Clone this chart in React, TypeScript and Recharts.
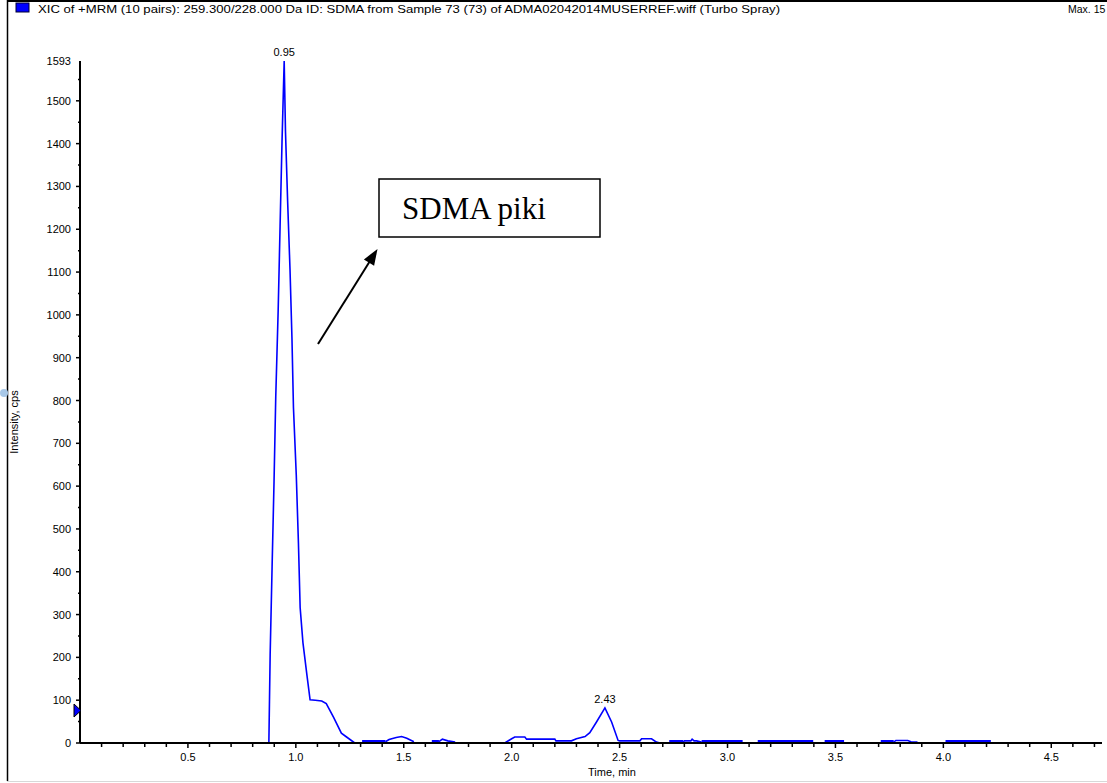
import React from 'react';
import { LineChart, Line, XAxis, YAxis, ReferenceDot } from 'recharts';

// Main XIC trace (time in min, intensity in cps); null = no visible trace
const traceTimes = [
  0.875, 0.881, 0.890, 0.899, 0.907, 0.918, 0.927, 0.936, 0.946, 0.952, 0.962, 0.973, 0.982, 0.989,
  1.002, 1.012, 1.020, 1.033, 1.052, 1.066, 1.090, 1.120, 1.141, 1.175, 1.211, 1.235, 1.273, 1.280,
  1.415, 1.432, 1.465, 1.490, 1.514, 1.547, 1.555,
  1.663, 1.679, 1.704, 1.738, 1.745,
  1.968, 2.000, 2.014, 2.061, 2.069, 2.200, 2.205, 2.277, 2.300, 2.340, 2.362, 2.393, 2.432, 2.463,
  2.493, 2.501, 2.594, 2.602, 2.648, 2.671, 2.687, 2.700,
  2.795, 2.800, 2.830, 2.836, 2.845, 2.857, 2.880, 2.890,
  3.770, 3.780, 3.835, 3.850, 3.880,
];
const traceValues = [
  0, 206, 412, 611, 810, 1008, 1207, 1405, 1593, 1429, 1265, 1106, 946, 783,
  626, 467, 316, 234, 156, 101, 100, 98, 92, 60, 23, 14, 0, null,
  3, 8, 13, 15, 11, 3, null,
  3, 9, 5, 2, null,
  0, 10, 14, 14, 9, 9, 5, 5, 10, 15, 24, 49, 82, 49,
  6, 5, 5, 10, 10, 2, 0, null,
  2, 5, 5, 9, 5, 5, 2, null,
  2, 6, 6, 3, 2,
];

// Noise-floor stretches near the baseline
const noiseTimes = [
  1.307, 1.415, 1.5, 1.630, 1.663, 1.7, 2.730, 2.795, 2.8, 2.880, 3.070, 3.1,
  3.140, 3.397, 3.42, 3.450, 3.540, 3.6, 3.710, 3.770, 3.9, 4.010, 4.220,
];
const noiseValues = [
  3, 3, null, 3, 3, null, 3, 3, null, 3, 3, null,
  3, 3, null, 3, 3, null, 3, 3, null, 3, 3,
];

const xTicks = [
  0.1, 0.2, 0.3, 0.4, 0.5, 0.6, 0.7, 0.8, 0.9, 1.0, 1.1, 1.2, 1.3, 1.4, 1.5, 1.6, 1.7, 1.8, 1.9, 2.0,
  2.1, 2.2, 2.3, 2.4, 2.5, 2.6, 2.7, 2.8, 2.9, 3.0, 3.1, 3.2, 3.3, 3.4, 3.5, 3.6, 3.7, 3.8, 3.9, 4.0,
  4.1, 4.2, 4.3, 4.4, 4.5, 4.6, 4.7,
];
const xLabelled = ['0.5', '1.0', '1.5', '2.0', '2.5', '3.0', '3.5', '4.0', '4.5'];
const yMajorTicks = [0, 100, 200, 300, 400, 500, 600, 700, 800, 900, 1000, 1100, 1200, 1300, 1400, 1500];
const yMinorTicks = [50, 150, 250, 350, 450, 550, 650, 750, 850, 950, 1050, 1150, 1250, 1350, 1450, 1550];
const yMax = 1593;
const xMax = 4.735;

const peakLabels = [
  { t: 0.946, v: 1593, label: '0.95' },
  { t: 2.432, v: 82, label: '2.43' },
];

const titleText =
  'XIC of +MRM (10 pairs): 259.300/228.000 Da ID: SDMA from Sample 73 (73) of ADMA02042014MUSERREF.wiff (Turbo Spray)';
const maxText = 'Max. 15';

const traceData = traceTimes.map((t, i) => ({ t, v: traceValues[i] }));
const noiseData = noiseTimes.map((t, i) => ({ t, v: noiseValues[i] }));
const yTicks = [...yMajorTicks, ...yMinorTicks, yMax].sort((a, b) => a - b);

const FONT = '"Liberation Sans", Arial, sans-serif';

const XTick = (props: any) => {
  const { x, y, payload } = props;
  const label = Number(payload.value).toFixed(1);
  const major = xLabelled.includes(label);
  return (
    <g>
      <line x1={x} x2={x} y1={y} y2={y + (major ? 5 : 4)} stroke="#000" strokeWidth={1.5} />
      {major && (
        <text x={x} y={y + 18} textAnchor="middle" fontSize={11} fontFamily={FONT} fill="#000">
          {label}
        </text>
      )}
    </g>
  );
};

const YTick = (props: any) => {
  const { x, y, payload } = props;
  const v = payload.value;
  const isTop = v === yMax;
  const major = yMajorTicks.includes(v);
  return (
    <g>
      {!isTop && (
        <line x1={x} x2={x - (major ? 4 : 2)} y1={y} y2={y} stroke="#000" strokeWidth={1.5} />
      )}
      {(major || isTop) && (
        <text x={x - 9} y={y + 4} textAnchor="end" fontSize={11} fontFamily={FONT} fill="#000">
          {v}
        </text>
      )}
    </g>
  );
};

export default function App() {
  const W = 1107;
  const H = 783;
  return (
    <div style={{ position: 'absolute', left: 0, top: 0, width: W, height: H, background: '#fff' }}>
      <LineChart
        width={W}
        height={H}
        margin={{ top: 61, right: 5, bottom: 10, left: 20 }}
      >
        <XAxis
          type="number"
          dataKey="t"
          domain={[0, xMax]}
          ticks={xTicks}
          interval={0}
          tick={<XTick />}
          tickLine={false}
          tickSize={0}
          tickMargin={0}
          height={30}
          axisLine={{ stroke: '#000', strokeWidth: 2 }}
          allowDataOverflow
        />
        <YAxis
          type="number"
          dataKey="v"
          domain={[0, yMax]}
          ticks={yTicks}
          interval={0}
          tick={<YTick />}
          tickLine={false}
          tickSize={0}
          tickMargin={0}
          width={60}
          axisLine={{ stroke: '#000', strokeWidth: 2 }}
          allowDataOverflow
        />
        <Line
          data={noiseData}
          dataKey="v"
          type="linear"
          stroke="#0000ff"
          strokeWidth={3.5}
          dot={false}
          connectNulls={false}
          isAnimationActive={false}
        />
        <Line
          data={traceData}
          dataKey="v"
          type="linear"
          stroke="#0000ff"
          strokeWidth={1.6}
          dot={false}
          connectNulls={false}
          isAnimationActive={false}
        />
        {peakLabels.map((p) => (
          <ReferenceDot
            key={p.label}
            x={p.t}
            y={p.v}
            r={0}
            fill="none"
            stroke="none"
            label={{ value: p.label, position: 'top', offset: 5, fontSize: 11, fill: '#000', fontFamily: FONT }}
          />
        ))}
      </LineChart>
      <svg
        width={W}
        height={H}
        style={{ position: 'absolute', left: 0, top: 0, pointerEvents: 'none' }}
      >
        <line x1={7} y1={1} x2={W} y2={1} stroke="#000" strokeWidth={2} />
        <line x1={7.5} y1={0} x2={7.5} y2={781} stroke="#000" strokeWidth={1.5} />
        <line x1={7} y1={781.5} x2={W} y2={781.5} stroke="#d8d8d8" strokeWidth={1} />
        <rect x={16} y={3} width={13} height={9} fill="#0000ff" stroke="#000033" strokeWidth={1} />
        <text x={38} y={13} fontSize={10.5} fontFamily={FONT} fill="#000" textLength={742} lengthAdjust="spacingAndGlyphs">
          {titleText}
        </text>
        <text x={1068} y={13} fontSize={10.5} fontFamily={FONT} fill="#000">
          {maxText}
        </text>
        <text
          x={18}
          y={422}
          transform="rotate(-90 18 422)"
          textAnchor="middle"
          fontSize={11}
          fontFamily={FONT}
          fill="#000"
        >
          Intensity, cps
        </text>
        <text x={612} y={776} textAnchor="middle" fontSize={11} fontFamily={FONT} fill="#000">
          Time, min
        </text>
        <polygon points="74,704 81,710.5 74,717" fill="#0000ff" stroke="#000" strokeWidth={1} />
        <circle cx={4} cy={393} r={4} fill="#a8c8e8" />
        <rect x={379} y={179} width={221} height={58} fill="#fff" stroke="#000" strokeWidth={1.5} />
        <text x={402} y={219} fontSize={31} fontFamily='"Liberation Serif", "Times New Roman", serif' fill="#000">
          SDMA piki
        </text>
        <line x1={318} y1={344} x2={370} y2={261} stroke="#000" strokeWidth={2} />
        <polygon points="377.5,249 374.1,265.8 363.9,259.4" fill="#000" />
      </svg>
    </div>
  );
}
